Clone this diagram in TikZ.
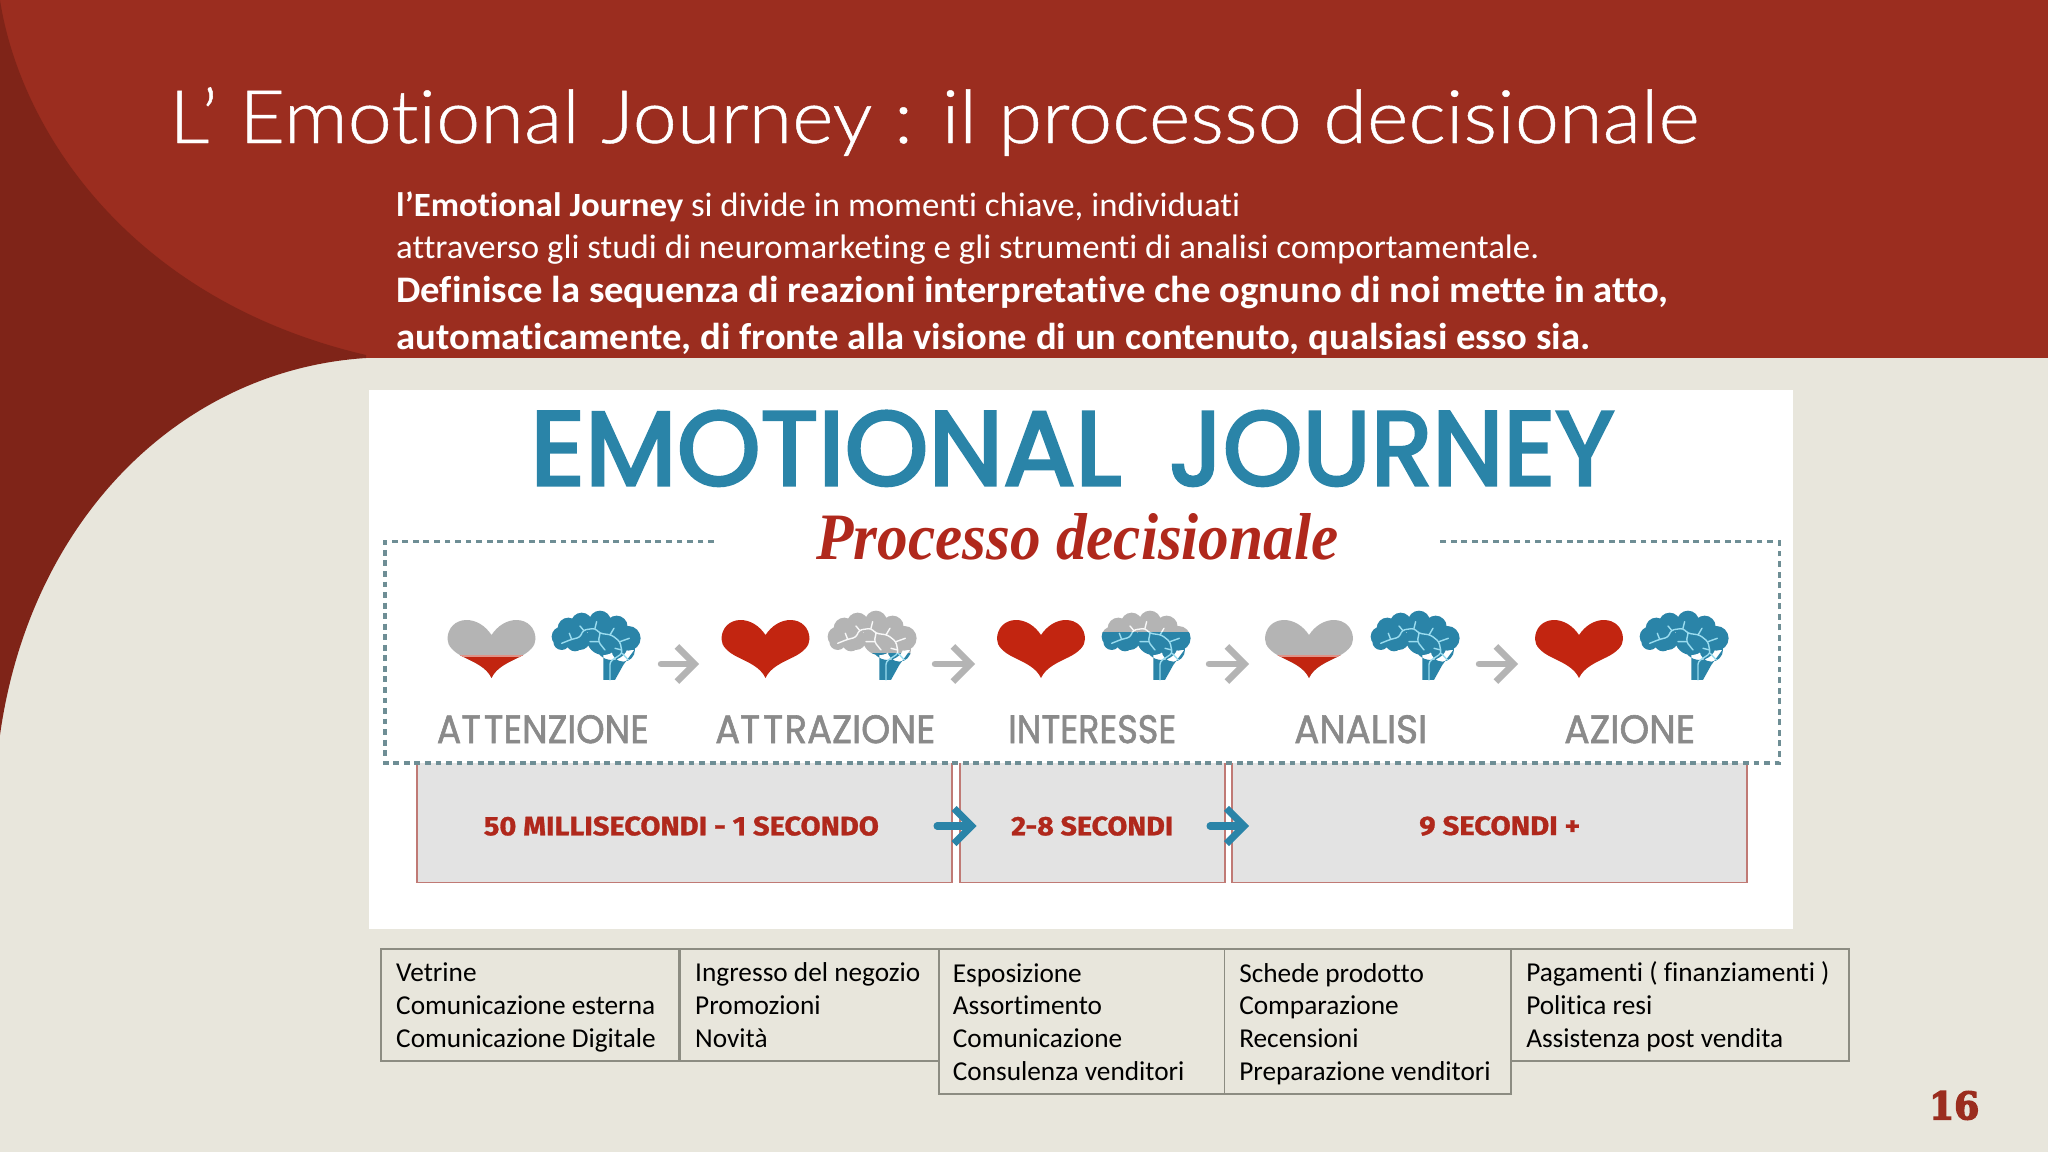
\documentclass[tikz,border=0pt]{standalone}
\usepackage{fontspec}
\usepackage{graphicx}
\usetikzlibrary{arrows.meta}
\setmainfont[Ligatures=NoCommon]{Carlito}
\newfontfamily\lightfont[Ligatures=NoCommon,FakeBold=0.6]{Lato Light}
\newfontfamily\popfont[FakeBold=1.5]{Poppins}
\newfontfamily\pophead[FakeBold=3]{Poppins}
\newfontfamily\firafont[FakeBold=1]{Fira Sans}
\newfontfamily\serifbold{Liberation Serif}
\newfontfamily\numfont[FakeBold=4]{DejaVu Serif}
\newlength\pxu
\setlength\pxu{0.03cm}
\newcommand\fitbox[3]{\resizebox{#1\pxu}{#2\pxu}{#3}}
\newcommand\fitwide[2]{\resizebox{#1\pxu}{\height}{#2}}
\definecolor{beige}{HTML}{E8E6DC}
\definecolor{redmain}{HTML}{9B2D1F}
\definecolor{reddark}{HTML}{7F2418}
\definecolor{bluemain}{HTML}{2A84A8}
\definecolor{veinblue}{HTML}{9ADCEF}
\definecolor{greyicon}{HTML}{B4B4B4}
\definecolor{greytext}{HTML}{8A8A8A}
\definecolor{heartred}{HTML}{C22510}
\definecolor{labelred}{HTML}{B0281C}
\definecolor{panelgrey}{HTML}{E3E3E3}
\definecolor{paneledge}{HTML}{C07A75}
\definecolor{dashcol}{HTML}{6E8E95}
\definecolor{tableline}{HTML}{8C8C82}
\tikzset{
  titletext/.style={anchor=base west,inner sep=0,text=white,font=\lightfont\fontsize{63}{70}\selectfont},
  bodytext/.style={anchor=base west,inner sep=0,text=white,font=\fontsize{29}{32}\selectfont},
  boldtext/.style={anchor=base west,inner sep=0,text=white,font=\fontsize{32}{34}\selectfont\bfseries},
  fitnode/.style={anchor=south west,inner sep=0},
  stagelabel/.style={fitnode,text=greytext,font=\popfont},
  timelabel/.style={fitnode,text=labelred,font=\firafont\bfseries},
  greyarrow/.style={draw=greyicon,line width=5.5pt,line cap=round,-{Straight Barb[length=15pt,width=30pt,line width=5.5pt]}},
  bluearrow/.style={draw=bluemain,line width=6pt,line cap=round,-{Straight Barb[length=15pt,width=30pt,line width=6pt]}},
  panel/.style={draw=paneledge,fill=panelgrey,line width=1.6pt},
  dashbox/.style={draw=dashcol,line width=2.6pt,dash pattern=on 5pt off 4pt},
  cell/.style={draw=tableline,line width=1pt},
  celltext/.style={anchor=base west,inner sep=0,text=black,align=left,font=\fontsize{23.3}{27.8}\selectfont},
}
% heart: local px coordinates, origin at top centre
\newcommand\heartpath{(0,58) .. controls (-5,47) and (-18,42) .. (-28,37) .. controls (-38,32) and (-44,26) .. (-44,19) .. controls (-44,8) and (-36,0) .. (-25,0) .. controls (-15,0) and (-6,6) .. (0,15) .. controls (6,6) and (15,0) .. (25,0) .. controls (36,0) and (44,8) .. (44,19) .. controls (44,26) and (38,32) .. (28,37) .. controls (18,42) and (5,47) .. (0,58) -- cycle}
\newcommand\heartfull[1]{\fill[heartred,shift={(#1,620)}] \heartpath;}
\newcommand\heartlow[1]{%
  \begin{scope}[shift={(#1,620)}]
    \fill[greyicon] \heartpath;
    \begin{scope}
      \clip (-50,35) rectangle (50,60);
      \fill[heartred] \heartpath;
    \end{scope}
    \begin{scope}
      \clip (-50,35) rectangle (50,36.2);
      \fill[heartred!50!white] \heartpath;
    \end{scope}
  \end{scope}}
% brain: coordinates in 3x crop units
\newcommand\brainfill{%
  (65,110) circle (30) (85,85) circle (32) (125,70) circle (32) (180,65) circle (33)
  (230,80) circle (33) (265,115) circle (37) (250,150) circle (35) (120,120) circle (30)
  (190,115) circle (50) (215,130) circle (50) (65,125) circle (25) (105,128) circle (26)
  (190,150) -- (190,240) -- (225,240) -- (250,195) -- (283,150) -- cycle}
\newcommand\brainveins{%
  (65,130) -- (95,118) -- (120,112) -- (130,90) -- (165,85) -- (180,100) -- (215,105) -- (240,125) -- (247,160) -- (210,185) -- (210,240)
  (95,118) -- (88,100) (130,90) -- (120,78) (165,85) -- (170,65) (210,105) -- (222,85)
  (180,100) -- (175,125) -- (195,150) (175,125) -- (150,125) (240,125) -- (268,115)
  (245,150) -- (225,145) (247,160) -- (265,180)}
% #1 crop origin x, #2 level, #3 top colour, #4 bottom colour, #5 top vein colour
\newcommand\brainicon[5]{%
  \begin{scope}[shift={(#1,600)},x=0.01cm,y=-0.01cm]
    \begin{scope}
      \clip (0,0) rectangle (330,#2+3);
      \fill[#3] \brainfill;
      \draw[#5,line width=1.2pt,line cap=round,rounded corners=2.5pt] \brainveins;
    \end{scope}
    \begin{scope}
      \clip (0,#2) rectangle (330,270);
      \fill[#4] \brainfill;
      \draw[veinblue,line width=1.2pt,line cap=round,rounded corners=2.5pt] \brainveins;
    \end{scope}
  \end{scope}}
\begin{document}
\begin{tikzpicture}[x=0.03cm,y=-0.03cm]
\useasboundingbox (0,0) rectangle (2048,1152);
% backgrounds
\fill[beige] (0,0) rectangle (2048,1152);
\fill[redmain] (0,0) rectangle (2048,358);
\fill[reddark] (0,0) .. controls (20,130) and (130,300) .. (366,355) -- (366,358) .. controls (180,370) and (30,520) .. (0,735) -- cycle;
% heading
\node[titletext] (title) at (169,143) {\fitwide{1530}{L’ Emotional Journey : il processo decisionale}};
\node[bodytext] (line1) at (396,216) {\fitwide{844}{\textbf{l’Emotional Journey} si divide in momenti chiave, individuati}};
\node[bodytext] (line2) at (396,258) {\fitwide{1143}{attraverso gli studi di neuromarketing e gli strumenti di analisi comportamentale.}};
\node[boldtext] (line3) at (396,302) {\fitwide{1272}{Definisce la sequenza di reazioni interpretative che ognuno di noi mette in atto,}};
\node[boldtext] (line4) at (396,349) {\fitwide{1194}{automaticamente, di fronte alla visione di un contenuto, qualsiasi esso sia.}};
% white panel
\fill[white] (369,390) rectangle (1793,929);
\node[fitnode,text=bluemain,font=\pophead] (head1) at (530,486) {\fitbox{591}{74}{EMOTIONAL}};
\node[fitnode,text=bluemain,font=\pophead] (head2) at (1169,486) {\fitbox{445}{74}{JOURNEY}};
\node[fitnode,text=labelred,font=\serifbold\bfseries\itshape] (sub) at (816,560) {\fitbox{522}{46}{Processo decisionale}};
% time panels
\draw[panel] (417,763) -- (417,882.5) -- (952,882.5) -- (952,763);
\draw[panel] (960,763) -- (960,882.5) -- (1225,882.5) -- (1225,763);
\draw[panel] (1232,763) -- (1232,882.5) -- (1747,882.5) -- (1747,763);
\draw[dashbox] (714,541.5) -- (385,541.5) -- (385,763) -- (1779,763) -- (1779,541.5) -- (1436,541.5);
% icons
\heartlow{491.5}
\brainicon{540}{300}{bluemain}{bluemain}{veinblue}
\heartfull{765.5}
\brainicon{816}{160}{greyicon}{bluemain}{white!90!greyicon}
\heartfull{1041}
\brainicon{1090}{98}{greyicon}{bluemain}{white!90!greyicon}
\heartlow{1309}
\brainicon{1359}{300}{bluemain}{bluemain}{veinblue}
\heartfull{1579}
\brainicon{1628}{300}{bluemain}{bluemain}{veinblue}
% grey arrows
\coordinate (g1s) at (661,664); \coordinate (g1e) at (699,664);
\coordinate (g2s) at (935,664); \coordinate (g2e) at (975,664);
\coordinate (g3s) at (1209,664); \coordinate (g3e) at (1249,664);
\coordinate (g4s) at (1479,664); \coordinate (g4e) at (1518,664);
\draw[greyarrow] (g1s) -- (g1e);
\draw[greyarrow] (g2s) -- (g2e);
\draw[greyarrow] (g3s) -- (g3e);
\draw[greyarrow] (g4s) -- (g4e);
% stage labels
\node[stagelabel] (s1) at (436.6,743.6) {\fitbox{212}{28}{AT\kern.08em TENZIONE}};
\node[stagelabel] (s2) at (715,743.6) {\fitbox{220}{28}{AT\kern.08em T\kern.04em RAZIONE}};
\node[stagelabel] (s3) at (1008,743.6) {\fitbox{168}{28}{INTERESSE}};
\node[stagelabel] (s4) at (1294,743.6) {\fitbox{133}{28}{ANALISI}};
\node[stagelabel] (s5) at (1564,743.6) {\fitbox{131}{28}{AZIONE}};
% time labels
\node[timelabel] (t1) at (483.6,836) {\fitbox{395}{19}{50 MILLISECONDI - 1 SECONDO}};
\node[timelabel] (t2) at (1011,836) {\fitbox{162}{19}{2-8 SECONDI}};
\node[timelabel] (t3) at (1419,836) {\fitbox{161}{19}{9 SECONDI +}};
% blue arrows
\coordinate (b1s) at (937,826); \coordinate (b1e) at (976.6,826);
\coordinate (b2s) at (1210,826); \coordinate (b2e) at (1249,826);
\draw[bluearrow] (b1s) -- (b1e);
\draw[bluearrow] (b2s) -- (b2e);
% table
\draw[cell] (381,949) rectangle (678.5,1061);
\draw[cell] (680,949) rectangle (939,1061);
\draw[cell] (939,949) rectangle (1224.5,1094);
\draw[cell] (1224.5,949) rectangle (1511,1094);
\draw[cell] (1511,949) rectangle (1849,1061);
\node[celltext] (c1) at (396,1047) {Vetrine\\Comunicazione esterna\\Comunicazione Digitale};
\node[celltext] (c2) at (695,1047) {Ingresso del negozio\\Promozioni\\Novità};
\node[celltext] (c3) at (952.6,1080) {Esposizione\\Assortimento\\Comunicazione\\Consulenza venditori};
\node[celltext] (c4) at (1239,1080) {Schede prodotto\\Comparazione\\Recensioni\\Preparazione venditori};
\node[celltext] (c5) at (1526,1047) {Pagamenti ( finanziamenti )\\Politica resi\\Assistenza post vendita};
% page number
\node[fitnode,text=redmain,font=\numfont\bfseries] (page) at (1929,1120) {\fitbox{50}{28}{16}};
\end{tikzpicture}
\end{document}
